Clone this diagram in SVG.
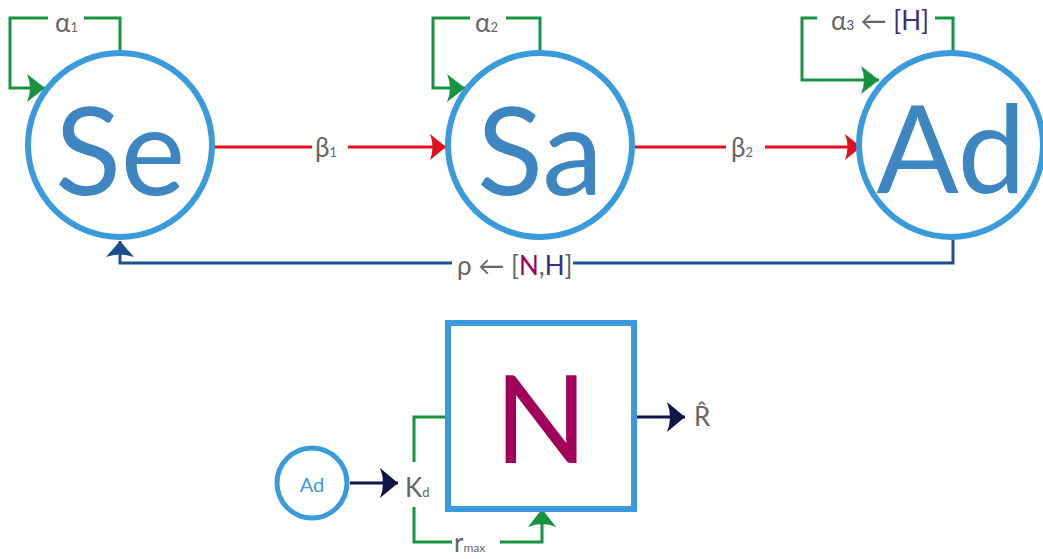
<svg xmlns="http://www.w3.org/2000/svg" width="1043" height="559" viewBox="0 0 1043 559">
<style>
.node{fill:#fff;stroke:#3a9bdc;stroke-width:6}
.big{font-family:Lato,"Liberation Sans",sans-serif;fill:#3d86c1;text-anchor:middle}
.lbl{font-family:Lato,"Liberation Sans",sans-serif;fill:#666;font-size:26px}
.g{fill:none;stroke:#179340;stroke-width:3}
.r{fill:none;stroke:#e3101b;stroke-width:3}
.b{fill:none;stroke:#1b4f8f;stroke-width:3}
.n{fill:none;stroke:#0f1547;stroke-width:3}
</style>
<defs>
<marker id="ag" viewBox="-20 -15 22 30" refX="0" refY="0" markerWidth="22" markerHeight="30" markerUnits="userSpaceOnUse" orient="auto"><path d="M0,0 L-18,-14 Q-12,0 -18,14 Z" fill="#179340"/></marker>
<marker id="ar" viewBox="-20 -15 22 30" refX="0" refY="0" markerWidth="22" markerHeight="30" markerUnits="userSpaceOnUse" orient="auto"><path d="M0,0 L-16,-13 Q-11,0 -16,13 Z" fill="#e3101b"/></marker>
<marker id="ab" viewBox="-20 -15 22 30" refX="0" refY="0" markerWidth="22" markerHeight="30" markerUnits="userSpaceOnUse" orient="auto"><path d="M0,0 L-16,-14 Q-11,0 -16,14 Z" fill="#1b4f8f"/></marker>
<marker id="an" viewBox="-20 -15 22 30" refX="0" refY="0" markerWidth="22" markerHeight="30" markerUnits="userSpaceOnUse" orient="auto"><path d="M0,0 L-18,-15 Q-12,0 -18,15 Z" fill="#0f1547"/></marker>
</defs>

<g id="connectors">
  <!-- self loops -->
  <path class="g" d="M120,52 V18 H84 M48,18 H10 V88 H45" marker-end="url(#ag)"/>
  <path class="g" d="M540,52 V18 H506 M470,18 H433 V88 H465" marker-end="url(#ag)"/>
  <path class="g" d="M953,52 V18 H935 M817,18 H802 V80 H879" marker-end="url(#ag)"/>
  <!-- transitions -->
  <path class="r" d="M214,147 H312 M348,147 H446" marker-end="url(#ar)"/>
  <path class="r" d="M635,147 H726 M765,147 H861" marker-end="url(#ar)"/>
  <path class="b" d="M953,240 V263 H573 M452,263 H120 V241" marker-end="url(#ab)"/>
  <!-- bottom -->
  <path class="n" d="M350,483 H398" marker-end="url(#an)"/>
  <path class="n" d="M637,417 H685" marker-end="url(#an)"/>
  <path class="g" d="M448,417 H414 V462"/>
  <path class="g" d="M414,507 V542 H452 M500,542 H542 V509" marker-end="url(#ag)"/>

  <text class="lbl" x="55" y="32">α<tspan font-size="13">1</tspan></text>
  <text class="lbl" x="475" y="32">α<tspan font-size="13">2</tspan></text>
  <text class="lbl" x="831" y="30">α<tspan font-size="13" fill="#4b3f8f">3</tspan> ← <tspan fill="#3b2e7e">[H]</tspan></text>
  <text class="lbl" x="315" y="157">β<tspan font-size="13">1</tspan></text>
  <text class="lbl" x="731" y="157">β<tspan font-size="13">2</tspan></text>
  <text class="lbl" x="457" y="275">ρ ← [<tspan fill="#a0005a">N</tspan>,<tspan fill="#3b2e7e">H</tspan>]</text>
  <text class="lbl" x="405" y="497" font-size="29">K<tspan font-size="13">d</tspan></text>
  <text class="lbl" x="454" y="552">r<tspan font-size="12">max</tspan></text>
  <text class="lbl" x="694" y="426">R̂</text>
</g>

<g id="node-Se">
  <circle class="node" cx="120" cy="145" r="92"/>
  <text class="big" x="120" y="195" font-size="122">Se</text>
</g>
<g id="node-Sa">
  <circle class="node" cx="540" cy="145" r="92"/>
  <text class="big" x="540" y="195" font-size="122">Sa</text>
</g>
<g id="node-Ad">
  <circle class="node" cx="951" cy="145" r="92"/>
  <text class="big" x="951" y="193" font-size="122">Ad</text>
</g>
<g id="node-Ad-small">
  <circle cx="312" cy="483" r="35" fill="#fff" stroke="#3a9bdc" stroke-width="5"/>
  <text x="312" y="492" font-family="Lato,'Liberation Sans',sans-serif" font-size="20" fill="#3a9bdc" text-anchor="middle">Ad</text>
</g>
<g id="node-N">
  <rect x="448" y="323" width="186" height="186" fill="#fff" stroke="#3a9bdc" stroke-width="6"/>
  <text x="541" y="463" font-family="Lato,'Liberation Sans',sans-serif" font-size="122" fill="#a0005a" text-anchor="middle">N</text>
</g>
</svg>
